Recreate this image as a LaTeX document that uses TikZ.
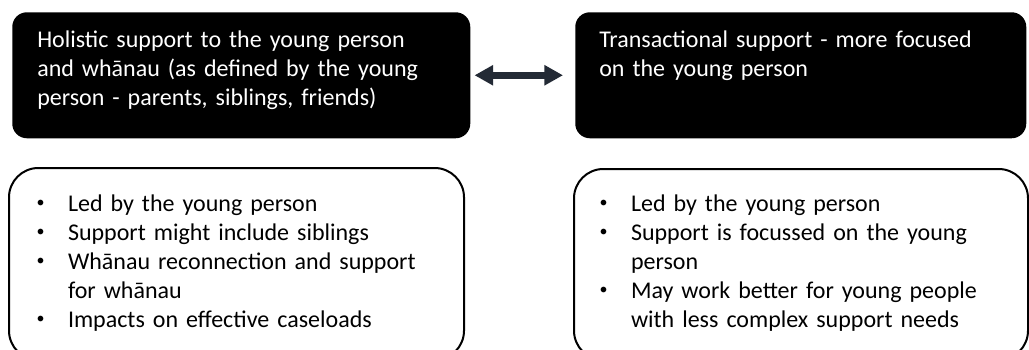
\documentclass[tikz,border=0pt]{standalone}
\usepackage{fontspec}
\setmainfont{Carlito}
\usetikzlibrary{arrows.meta}

\definecolor{arrowink}{HTML}{232A35}
\newcommand{\listdot}{{\fontsize{12}{12}\selectfont\raisebox{3pt}{\textbullet}}}
\newcommand{\bitem}[1]{\noindent\hangindent=25.5pt\hangafter=1\makebox[25.5pt][l]{\hspace{2pt}\listdot}#1\par}

\begin{document}
\begin{tikzpicture}[x=0.75pt,y=-0.75pt,
    font=\fontsize{18}{21.75}\selectfont,
    headbox/.style={fill=black,text=white,rounded corners=11pt,anchor=north west,
      align=left,inner ysep=0pt,text height=26.5pt,text depth=68pt},
    listbox/.style={draw=black,line width=1.5pt,rounded corners=22pt,anchor=north west,
      align=left,inner ysep=0pt,text depth=111.75pt},
    twoway/.style={arrowink,line width=5.25pt,
      {Triangle[length=14pt,width=14.5pt]}-{Triangle[length=14pt,width=14.5pt]}}]
    \useasboundingbox (0,0) rectangle (1029,350);
    \clip (0,0) rectangle (1029,350);

    % the two kinds of support
    \node[headbox,inner xsep=18.75pt,text width=306pt] (holistic) at (12,12)
      {Holistic support to the young person\\and whānau (as defined by the young\\person - parents, siblings, friends)};
    \node[headbox,inner xsep=18pt,text width=302.25pt] (transact) at (575,12)
      {Transactional support - more focused\\on the young person};
    \draw[twoway,shorten <=3pt,shorten >=9pt] (holistic.east) -- (transact.west);

    % what each one means
    \node[listbox,inner xsep=18.75pt,text width=303.75pt,text height=32.25pt] (holisticlist) at (8,167)
      {\bitem{Led by the young person}%
       \bitem{Support might include siblings}%
       \bitem{Whānau reconnection and support\newline for whānau}%
       \bitem{Impacts on effective caseloads}};
    \node[listbox,inner xsep=17.25pt,text width=306pt,text height=31.5pt] (transactlist) at (573,168)
      {\bitem{Led by the young person}%
       \bitem{Support is focussed on the young\newline person}%
       \bitem{May work better for young people\newline with less complex support needs}};
  \end{tikzpicture}
\end{document}
